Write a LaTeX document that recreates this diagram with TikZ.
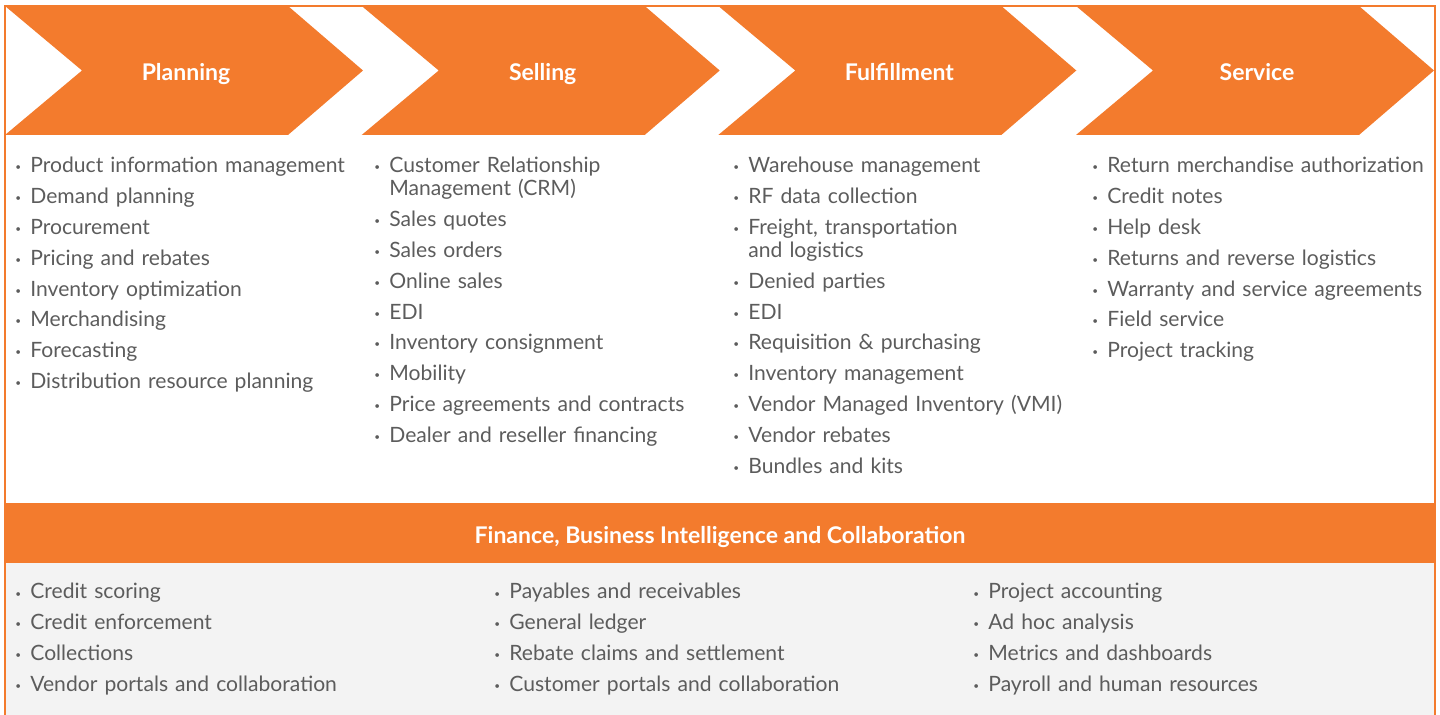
\documentclass[tikz,border=0pt]{standalone}
\usepackage{fontspec}
\setmainfont{Lato}
\definecolor{procOrange}{RGB}{243,123,45}
\definecolor{panelGray}{RGB}{243,243,243}
\definecolor{itemGray}{RGB}{92,92,92}
\newcommand\ItemDot{\makebox[7.5pt][l]{\raisebox{1pt}{\tiny\textbullet}}}
\newcommand\Chevron[3]{%
    \fill[procOrange] (#1,6) -- ++(283,0) -- ++(75,64.5) -- ++(-75,64.5)
        -- ++(-283,0) -- ++(77,-64.5) -- cycle;
    \node[head,anchor=base] (#2) at (#1+181,80.5) {#3};
}

\begin{document}
\begin{tikzpicture}[x=0.5pt,y=-0.5pt,
    head/.style={text=white,inner sep=0pt,font=\bfseries\fontsize{11.5}{13}\selectfont},
    items/.style={anchor=base west,inner sep=0pt,text width=190pt,align=left,
        text=itemGray,font=\fontsize{10.55}{11.5}\selectfont}]
    \useasboundingbox (0,0) rectangle (1440,715);
    \fill[panelGray] (5,563) rectangle (1435,720);
    % process steps
    \Chevron{5}{planning}{Planning}
    \Chevron{361.7}{selling}{Selling}
    \Chevron{718.3}{fulfillment}{Fulfillment}
    \Chevron{1076}{service}{Service}
    % shared band
    \fill[procOrange] (5,503) rectangle (1435,563);
    \node[head,anchor=base] (finance) at (720,543.5) {Finance, Business Intelligence and Collaboration};
    \draw[procOrange,line width=0.8pt] (5,720) |- (1435,6) -- (1435,720);

    \node[items] (planList) at (15,173) {%
        \ItemDot Product information management\\[3.9pt]
        \ItemDot Demand planning\\[3.9pt]
        \ItemDot Procurement\\[3.9pt]
        \ItemDot Pricing and rebates\\[3.9pt]
        \ItemDot Inventory optimization\\[3.9pt]
        \ItemDot Merchandising\\[3.9pt]
        \ItemDot Forecasting\\[3.9pt]
        \ItemDot Distribution resource planning};
    \node[items] (sellList) at (374,173) {%
        \ItemDot Customer Relationship\\
        \hspace*{7.5pt}Management (CRM)\\[3.9pt]
        \ItemDot Sales quotes\\[3.9pt]
        \ItemDot Sales orders\\[3.9pt]
        \ItemDot Online sales\\[3.9pt]
        \ItemDot EDI\\[3.9pt]
        \ItemDot Inventory consignment\\[3.9pt]
        \ItemDot Mobility\\[3.9pt]
        \ItemDot Price agreements and contracts\\[3.9pt]
        \ItemDot Dealer and reseller financing};
    \node[items] (fulfilList) at (733,173) {%
        \ItemDot Warehouse management\\[3.9pt]
        \ItemDot RF data collection\\[3.9pt]
        \ItemDot Freight, transportation\\
        \hspace*{7.5pt}and logistics\\[3.9pt]
        \ItemDot Denied parties\\[3.9pt]
        \ItemDot EDI\\[3.9pt]
        \ItemDot Requisition \& purchasing\\[3.9pt]
        \ItemDot Inventory management\\[3.9pt]
        \ItemDot Vendor Managed Inventory (VMI)\\[3.9pt]
        \ItemDot Vendor rebates\\[3.9pt]
        \ItemDot Bundles and kits};
    \node[items] (serviceList) at (1092,173) {%
        \ItemDot Return merchandise authorization\\[3.9pt]
        \ItemDot Credit notes\\[3.9pt]
        \ItemDot Help desk\\[3.9pt]
        \ItemDot Returns and reverse logistics\\[3.9pt]
        \ItemDot Warranty and service agreements\\[3.9pt]
        \ItemDot Field service\\[3.9pt]
        \ItemDot Project tracking};

    \node[items] (creditList) at (15,599) {%
        \ItemDot Credit scoring\\[3.9pt]
        \ItemDot Credit enforcement\\[3.9pt]
        \ItemDot Collections\\[3.9pt]
        \ItemDot Vendor portals and collaboration};
    \node[items] (ledgerList) at (494,599) {%
        \ItemDot Payables and receivables\\[3.9pt]
        \ItemDot General ledger\\[3.9pt]
        \ItemDot Rebate claims and settlement\\[3.9pt]
        \ItemDot Customer portals and collaboration};
    \node[items] (reportList) at (973,599) {%
        \ItemDot Project accounting\\[3.9pt]
        \ItemDot Ad hoc analysis\\[3.9pt]
        \ItemDot Metrics and dashboards\\[3.9pt]
        \ItemDot Payroll and human resources};
\end{tikzpicture}
\end{document}
